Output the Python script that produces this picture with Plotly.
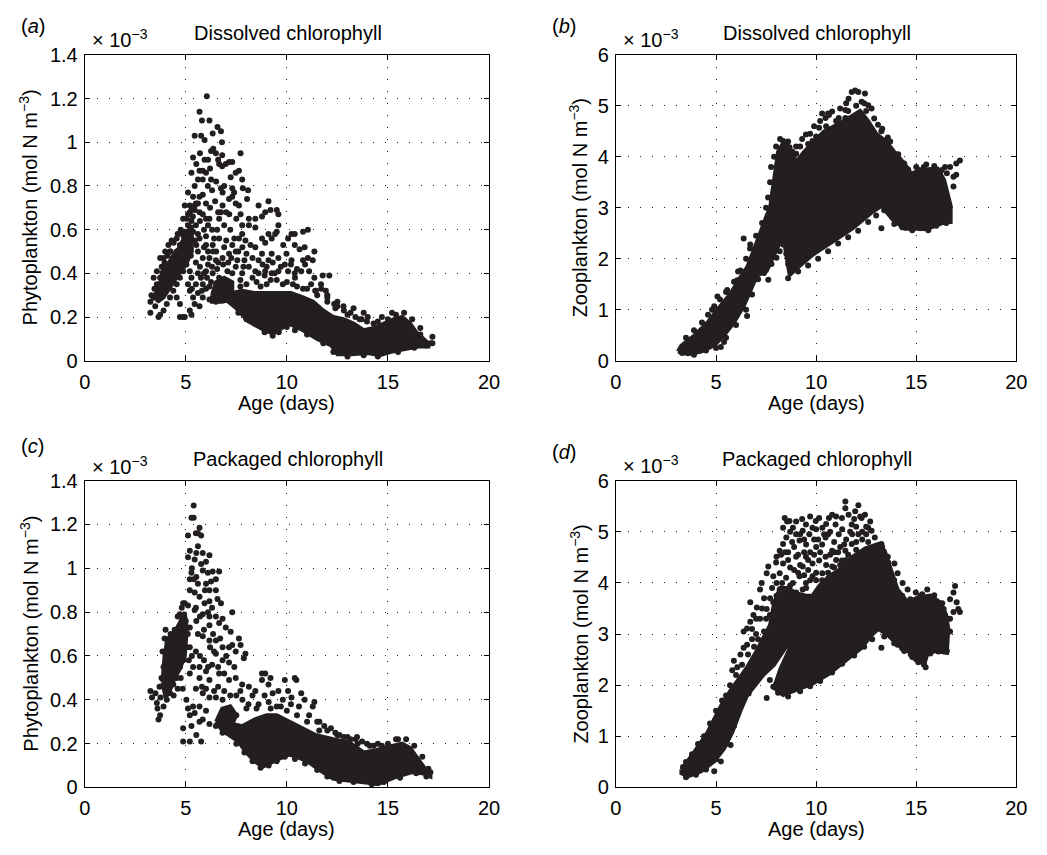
import plotly.graph_objects as go

INK = "#231f20"
W, H = 1047, 855

age_ticks = [0, 5, 10, 15, 20]
phyto_ticks = [0, 0.2, 0.4, 0.6, 0.8, 1, 1.2, 1.4]
zoo_ticks = [0, 1, 2, 3, 4, 5, 6]

panel_titles = ["Dissolved chlorophyll", "Dissolved chlorophyll",
                "Packaged chlorophyll", "Packaged chlorophyll"]
panel_letters = ["a", "b", "c", "d"]
x_title = "Age (days)"
y_titles = ["Phytoplankton (mol N m<sup>−3</sup>)", "Zooplankton (mol N m<sup>−3</sup>)",
            "Phytoplankton (mol N m<sup>−3</sup>)", "Zooplankton (mol N m<sup>−3</sup>)"]

# ---------------- Panel (a): phytoplankton, dissolved (units of 1e-3) -------------
# outlines of the saturated (solid) parts of the point cloud
a_dense = [(7.3,0.31),(7.8,0.32),(8.4,0.31),(9.0,0.31),(9.6,0.31),(10.2,0.31),(10.8,0.29),
           (11.3,0.27),(11.8,0.23),(12.3,0.2),(12.8,0.19),(13.3,0.17),(13.8,0.14),(14.3,0.15),
           (14.8,0.17),(15.3,0.19),(15.7,0.2),(16.1,0.17),(16.4,0.13),(16.8,0.1),(17.0,0.08),
           (17.0,0.065),(16.5,0.065),(15.9,0.055),(15.1,0.04),(14.6,0.025),(14.0,0.035),
           (13.2,0.03),(12.5,0.03),(12.2,0.07),(11.5,0.1),(10.7,0.145),(10.1,0.17),(9.75,0.15),
           (9.3,0.125),(8.8,0.145),(8.1,0.18),(7.5,0.24),(7.1,0.27)]
a_left = [(3.6,0.33),(4.0,0.42),(4.3,0.47),(4.7,0.52),(5.0,0.58),(5.3,0.62),(5.3,0.5),
          (5.0,0.44),(4.6,0.39),(4.2,0.33),(3.9,0.29),(3.6,0.27)]
a_mid = [(6.3,0.3),(6.5,0.36),(6.9,0.38),(7.3,0.36),(7.3,0.28),(6.8,0.27),(6.3,0.27)]
a_points = [
    (6.04,1.21),(5.68,1.14),(5.8,1.10),(6.17,1.10),(6.57,1.07),(6.74,1.05),(5.44,1.03),(5.76,1.03),
    (5.93,1.01),(6.33,1.04),(6.79,1.0),(6.36,0.97),(6.49,0.95),(6.25,0.96),(7.71,0.95),(6.8,0.94),
    (7.14,0.91),(7.3,0.91),(5.36,0.93),(5.52,0.90),(5.93,0.92),(5.68,0.87),(5.84,0.87),(6.0,0.86),
    (6.65,0.9),(6.8,0.89),(6.98,0.9),(7.47,0.86),(7.63,0.87),(7.22,0.84),(5.28,0.86),(5.6,0.83),
    (5.44,0.80),(5.84,0.83),(6.09,0.8),(6.25,0.83),(7.79,0.83),(7.82,0.79),(6.74,0.79),(6.82,0.77),
    (7.3,0.79),(7.39,0.77),(7.14,0.74),(7.3,0.75),(7.47,0.72),(8.08,0.78),(8.03,0.74),(5.11,0.77),
    (5.36,0.75),(5.68,0.75),(5.84,0.76),(6.0,0.72),(8.6,0.71),(9.09,0.73),(7.63,0.71),(7.71,0.67),
    (8.12,0.65),(8.44,0.65),(8.77,0.66),(9.19,0.69),(9.5,0.69),(9.58,0.67),(8.93,0.68),(4.95,0.71),
    (5.2,0.71),(5.44,0.69),(5.68,0.68),(5.84,0.67),(6.17,0.65),(6.65,0.65),(6.82,0.71),(6.74,0.68),
    (7.79,0.62),(8.12,0.62),(8.44,0.61),(9.58,0.62),(9.5,0.59),(10.23,0.58),(10.39,0.58),(10.8,0.59),
    (11.04,0.6),(10.06,0.56),(9.82,0.53),(9.09,0.58),(9.25,0.56),(9.42,0.58),(8.77,0.56),(8.93,0.54),
    (7.79,0.58),(7.63,0.56),(7.95,0.55),(8.2,0.53),(8.44,0.52),(10.39,0.53),(10.63,0.51),(10.88,0.52),
    (11.36,0.5),(11.28,0.46),(11.04,0.47),(10.8,0.46),(9.98,0.49),(10.23,0.46),(9.9,0.44),(9.25,0.49),
    (9.58,0.47),(9.09,0.46),(8.77,0.49),(8.6,0.46),(7.3,0.53),(7.47,0.5),(7.14,0.49),(6.65,0.56),
    (6.33,0.53),(6.0,0.53),(5.68,0.56),(5.52,0.53),(5.84,0.47),(6.17,0.47),(6.49,0.46),(6.82,0.47),
    (11.36,0.38),(11.77,0.39),(12.1,0.39),(11.93,0.32),(12.0,0.29),(11.69,0.35),(11.44,0.32),
    (12.5,0.25),(12.82,0.23),(13.15,0.22),(13.39,0.2),(13.7,0.19),(13.96,0.18),(14.29,0.17),(12.34,0.26),
    (10.71,0.41),(10.39,0.4),(10.06,0.41),(9.58,0.41),(9.25,0.4),(8.93,0.41),(8.44,0.41),(8.12,0.43),
    (7.79,0.40),(7.47,0.43),(7.3,0.4),(7.06,0.41),(6.0,0.41),(6.33,0.4),(6.65,0.38),(5.84,0.35),
    (6.17,0.34),(6.49,0.32),(5.6,0.31),(5.84,0.29),(6.17,0.28),(6.49,0.27),(6.82,0.29),(5.36,0.29),
    (5.44,0.26),(5.68,0.25),(4.55,0.29),(4.71,0.26),(4.87,0.2),(4.71,0.2),(4.95,0.2),(5.2,0.23),(5.28,0.21),
    (3.25,0.27),(3.41,0.29),(3.57,0.31),(3.73,0.32),(3.25,0.22),(3.49,0.25),(3.65,0.2),(3.73,0.21),
    (3.9,0.23),(4.06,0.26),(4.22,0.29),(4.38,0.32),(4.55,0.35),(4.71,0.38),(4.87,0.41),(3.57,0.35),
    (3.73,0.38),(3.9,0.41),(4.06,0.43),(4.22,0.44),(3.73,0.47),(3.9,0.47),(3.98,0.5),(4.14,0.53),
    (4.22,0.5),(4.38,0.47),(4.55,0.46),(4.71,0.47),(4.3,0.55),(4.55,0.56),(4.79,0.58),(4.95,0.59),
    (5.11,0.62),(5.28,0.64),(4.87,0.53),(5.03,0.56),(5.2,0.58),(5.36,0.59),(4.87,0.65),(5.11,0.67),
    (5.28,0.69),(5.44,0.71),(5.6,0.72),(3.9,0.32),(4.06,0.35),(4.22,0.37),(4.38,0.40),(4.55,0.41),
    (3.41,0.38),(3.57,0.41),(3.81,0.43),(4.55,0.5),(4.71,0.53),(4.95,0.47),(5.03,0.44),(5.2,0.41),
    (5.28,0.38),(5.11,0.35),(5.2,0.32),(3.3,0.3),(3.45,0.33),(3.85,0.4),(3.95,0.45),(4.1,0.48),
    (4.25,0.5),(4.4,0.54),(4.6,0.58),(4.75,0.6),(4.9,0.57),(5.0,0.5),(5.15,0.55),(5.25,0.48),
    (4.35,0.42),(4.5,0.44),(4.8,0.45),(3.5,0.29),(4.0,0.36),(4.15,0.4),
    (8.0,0.35),(8.5,0.36),(9.0,0.35),(9.5,0.37),(10.0,0.36),(10.5,0.34),(11.0,0.33),(11.5,0.3),
    (12.0,0.27),(12.4,0.24),(13.0,0.21),(13.6,0.19),(14.0,0.2),(14.5,0.18),(15.0,0.19),(15.4,0.21),
    (16.6,0.12),(17.2,0.11),(17.1,0.08),(16.9,0.07),(7.7,0.37),(8.3,0.38),(8.9,0.39),(9.4,0.4),
    (10.4,0.38),(11.2,0.35),(11.7,0.33),
    (5.5,0.62),(5.6,0.58),(5.7,0.64),(5.9,0.6),(6.0,0.57),(6.1,0.62),(6.3,0.6),(6.4,0.56),(6.5,0.5),
    (6.6,0.45),(6.9,0.52),(7.0,0.55),(7.2,0.6),(7.4,0.56),(7.6,0.5),(7.8,0.52),(7.9,0.46),(8.0,0.49),
    (8.3,0.47),(8.6,0.4),(8.8,0.44),(9.0,0.43),(9.3,0.45),(9.7,0.43),(10.2,0.44),(10.5,0.42),
    (10.9,0.44),(11.1,0.41),(5.5,0.45),(5.7,0.43),(5.9,0.4),(6.1,0.44),(6.3,0.43),(6.7,0.33),
    (6.0,0.33),(5.8,0.32),(5.5,0.35),(5.3,0.33),(7.0,0.35),(7.7,0.34),(8.7,0.34),(9.2,0.37),
    (9.8,0.35),(10.3,0.35),(10.8,0.33),(11.4,0.32),(12.0,0.3),(12.5,0.27),(12.8,0.25),(13.3,0.24),
    (13.8,0.22),(14.7,0.2),(15.2,0.22),(15.8,0.22),(16.2,0.19),(16.6,0.15),(5.05,0.65),(5.2,0.68),
    (5.35,0.66),(5.5,0.72),(6.2,0.7),(6.45,0.73),(6.6,0.68),(7.0,0.68),(7.5,0.65),(6.9,0.8),
    (6.5,0.82),(6.2,0.88),(5.7,0.95),(6.6,0.92),
    (7.6,0.22),(8.0,0.19),(8.4,0.17),(8.9,0.13),(9.3,0.115),(9.6,0.13),(10.0,0.155),(10.4,0.14),
    (11.0,0.12),(11.8,0.08),(12.3,0.04),(13.0,0.02),(13.8,0.025),(14.5,0.02),(15.5,0.04),
    (16.3,0.06),(17.2,0.08),
    (5.6,0.4),(5.75,0.38),(6.05,0.38),(6.25,0.36),(6.55,0.42),(6.85,0.44),(7.1,0.45),(7.25,0.47),
    (7.55,0.46),(7.85,0.43),(6.1,0.5),(6.35,0.5),(6.55,0.6),(6.9,0.62),(7.15,0.67),(5.45,0.55),
    (5.6,0.5),(5.9,0.52),(6.0,0.65),(6.3,0.78),(6.1,0.92)]

# ---------------- Panel (b): zooplankton, dissolved (units of 1e-3) ---------------
b_dense = [(3.1,0.18),(3.27,0.3),(3.93,0.5),(4.58,0.75),(5.07,1.0),(5.73,1.32),(6.22,1.64),
           (6.55,1.83),(6.87,2.15),(7.2,2.53),(7.53,2.85),(7.7,3.0),(7.9,3.6),(8.1,4.1),(8.4,4.3),
           (8.7,4.15),(9.0,3.9),(9.4,4.1),(9.9,4.3),(10.4,4.5),(10.9,4.6),(11.4,4.7),(11.8,4.8),
           (12.2,4.9),(12.6,4.7),(13.0,4.45),(13.5,4.3),(13.9,4.1),(14.4,3.87),(14.75,3.67),
           (15.24,3.74),(16.06,3.77),(16.39,3.55),(16.72,3.04),(16.72,2.72),(16.3,2.7),(15.57,2.59),
           (14.42,2.59),(13.8,2.78),(13.27,3.04),(12.78,2.91),(11.8,2.59),(10.81,2.34),(9.83,2.08),
           (9.0,1.8),(8.68,1.68),(8.35,2.46),(7.53,1.76),(7.04,1.67),(6.71,1.39),(6.38,1.07),
           (5.89,0.75),(5.4,0.5),(4.91,0.3),(4.26,0.18),(3.6,0.13)]
b_points = [
    (7.23,2.21),(7.77,1.9),(7.61,1.59),(6.38,2.4),(6.22,1.77),(7.36,2.53),(6.71,2.28),(4.91,1.07),
    (5.07,1.26),(5.56,1.39),(6.06,1.58),(6.55,0.88),(6.22,1.07),(5.73,0.75),(5.4,0.37),(5.24,0.27),
    (8.02,2.02),(8.18,2.15),(8.35,2.28),(8.51,2.1),(8.6,1.9),
    (8.35,4.31),(8.51,4.25),(8.67,4.19),(8.18,4.06),(9.0,4.06),(9.49,4.44),(9.82,4.31),(10.15,4.57),
    (10.47,4.76),(10.8,4.89),(10.64,4.82),(11.13,4.76),(11.46,4.92),(11.62,5.14),(11.78,5.27),
    (11.95,5.3),(12.11,5.27),(12.44,5.24),(12.6,5.01),(12.77,4.95),(12.27,5.08),(11.46,4.76),
    (10.97,4.57),(13.09,4.63),(13.26,4.5),(13.58,4.38),(13.42,4.19),(13.91,4.06),(14.08,3.93),
    (14.4,3.87),(15.14,3.74),(15.38,3.8),(15.71,3.74),(16.04,3.61),(16.28,3.74),(16.44,3.8),
    (16.53,3.68),(16.86,3.61),(17.0,3.65),(17.18,3.93),(17.0,3.87),(16.69,3.8),(16.86,3.42),
    (13.26,2.6),(14.16,2.79),(14.57,2.66),(15.38,2.6),(16.37,2.72),(9.2,4.2),(9.6,4.25),(10.0,4.4),
    (10.5,4.6),(11.0,4.7),(11.6,4.9),(12.0,5.0),(12.5,4.9),(8.8,4.1),(9.9,4.6),(10.3,4.85),
    (3.5,0.45),(3.9,0.6),(4.3,0.75),(4.6,0.9),(4.8,1.0),(5.2,1.2),(5.5,1.35),(5.9,1.55),(6.1,1.75),
    (6.5,2.0),(6.7,2.2),(7.0,2.45),(7.3,2.7),(7.5,3.0),(7.6,3.2),(7.7,3.5),(7.75,3.8),(7.9,4.0),
    (8.0,4.2),(8.2,4.35),(8.6,4.3),(8.8,4.1),
    (3.3,0.15),(3.9,0.12),(4.5,0.2),(5.0,0.25),(5.5,0.45),(6.0,0.7),(6.5,1.0),(6.8,1.3),(7.1,1.6),
    (7.4,1.72),
    (8.6,1.62),(9.1,1.75),(9.6,1.87),(10.1,2.0),(10.6,2.15),(11.1,2.3),(11.6,2.42),(12.1,2.55),
    (12.6,2.72),(13.0,2.85),(13.4,2.95),(13.9,2.68),(14.3,2.62),(14.8,2.56),(15.2,2.6),(15.6,2.56),
    (16.0,2.65),(16.5,2.7),
    (9.0,4.2),(9.3,4.35),(9.7,4.45),(10.2,4.7),(10.6,4.85),(11.2,4.95),(11.5,5.05),(12.4,5.05),
    (12.9,4.75),(13.3,4.55),(13.7,4.3),(14.1,4.05),(14.6,3.75),(15.0,3.8),(15.5,3.85),(15.9,3.82),
    (16.2,3.7)]

# ---------------- Panel (c): phytoplankton, packaged (units of 1e-3) --------------
c_dense = [(6.8,0.3),(7.4,0.29),(7.8,0.28),(8.4,0.31),(9.0,0.33),(9.5,0.33),(9.9,0.31),(10.4,0.29),
           (10.9,0.26),(11.4,0.24),(12.3,0.22),(13.1,0.205),(13.8,0.16),(14.4,0.17),(15.2,0.19),
           (15.7,0.2),(16.1,0.18),(16.5,0.13),(16.8,0.09),(17.1,0.065),(17.1,0.05),(16.7,0.065),
           (16.2,0.07),(15.3,0.045),(14.5,0.015),(14.0,0.022),(13.0,0.03),(12.3,0.04),(11.7,0.075),
           (11.0,0.12),(10.5,0.14),(10.1,0.15),(9.6,0.13),(9.2,0.11),(8.8,0.095),(8.4,0.12),(8.0,0.16),
           (7.6,0.21),(7.1,0.24),(6.8,0.26)]
c_left = [(3.85,0.48),(3.95,0.6),(4.1,0.68),(4.4,0.7),(4.7,0.75),(4.95,0.8),(5.05,0.72),(4.95,0.6),
          (4.7,0.54),(4.45,0.5),(4.2,0.44),(4.0,0.41)]
c_mid = [(6.5,0.3),(6.8,0.36),(7.2,0.37),(7.5,0.33),(7.2,0.27),(6.8,0.26)]
c_points = [
    (5.39,1.286),(5.28,1.23),(5.39,1.23),(5.68,1.185),(5.6,1.16),(5.76,1.15),(5.11,1.15),(5.2,1.08),
    (5.52,1.07),(5.84,1.07),(6.17,1.06),(5.11,1.05),(5.44,1.04),(5.76,1.02),(6.0,1.03),(5.84,0.99),
    (6.09,0.98),(6.33,0.985),(6.65,0.985),(5.28,0.98),(5.2,0.95),(5.52,0.96),(6.0,0.93),(6.25,0.94),
    (6.49,0.95),(5.2,0.9),(5.44,0.89),(5.68,0.87),(6.17,0.9),(6.49,0.9),(4.87,0.84),(5.11,0.83),
    (5.44,0.81),(5.93,0.84),(6.17,0.85),(6.57,0.86),(6.74,0.84),(7.3,0.8),(5.84,0.79),(6.17,0.78),
    (6.49,0.78),(6.82,0.77),(5.52,0.76),(5.2,0.73),(6.17,0.74),(6.65,0.75),(6.98,0.73),(7.22,0.71),
    (7.63,0.68),(7.71,0.65),(7.95,0.61),(7.87,0.59),(7.3,0.65),(7.47,0.62),(7.14,0.64),(5.84,0.69),
    (6.17,0.67),(6.49,0.67),(6.82,0.64),(6.49,0.61),(6.82,0.58),(7.14,0.57),(5.36,0.55),(5.68,0.55),
    (6.0,0.53),(5.2,0.52),(5.68,0.5),(6.17,0.49),(6.65,0.52),(7.14,0.49),(7.47,0.5),(7.79,0.47),
    (8.12,0.46),(8.44,0.44),(8.77,0.49),(9.09,0.47),(9.58,0.44),(9.19,0.5),(8.93,0.52),(8.77,0.52),
    (9.9,0.49),(10.39,0.5),(10.47,0.49),(10.06,0.44),(10.23,0.41),(10.71,0.43),(10.88,0.4),(11.36,0.39),
    (11.28,0.37),(5.84,0.43),(6.17,0.41),(6.49,0.41),(6.82,0.4),(5.36,0.37),(5.68,0.37),(6.0,0.35),
    (5.2,0.33),(5.44,0.34),(5.68,0.3),(5.84,0.31),(6.17,0.29),(6.49,0.28),(6.82,0.25),(5.03,0.4),
    (5.11,0.36),(4.87,0.27),(5.28,0.28),(5.52,0.24),(5.76,0.21),(4.87,0.21),(5.2,0.21),(11.61,0.30),
    (11.85,0.28),(12.18,0.27),(12.5,0.24),(12.82,0.23),(13.15,0.22),(13.47,0.23),(13.72,0.21),
    (13.96,0.2),(14.29,0.19),
    (3.25,0.44),(3.33,0.41),(3.57,0.385),(3.65,0.31),(3.73,0.33),(3.9,0.37),(4.06,0.4),(4.22,0.43),
    (4.38,0.47),(4.55,0.5),(4.71,0.55),(4.87,0.58),(5.03,0.64),(3.5,0.43),(3.7,0.46),(3.8,0.5),
    (3.9,0.55),(3.85,0.62),(3.95,0.68),(4.0,0.72),(4.1,0.66),(4.25,0.7),(4.35,0.64),(4.45,0.72),
    (4.6,0.78),(4.7,0.79),(4.8,0.82),(4.95,0.84),(5.0,0.76),(4.3,0.55),(4.5,0.6),(4.65,0.62),
    (4.75,0.5),(4.85,0.45),(4.6,0.45),(4.4,0.42),(3.6,0.36),(3.75,0.41),(4.15,0.5),(4.9,0.68),
    (5.1,0.7),(5.2,0.64),(5.15,0.58),
    (7.5,0.33),(8.0,0.36),(8.6,0.38),(9.1,0.39),(9.5,0.37),(10.0,0.35),(10.5,0.33),(11.0,0.3),
    (11.6,0.26),(12.6,0.24),(13.5,0.2),(14.1,0.19),(14.7,0.19),(15.5,0.22),(16.6,0.1),(17.1,0.07),
    (17.0,0.085),(8.3,0.42),(9.3,0.43),(9.8,0.4),
    (5.3,0.6),(5.5,0.62),(5.7,0.6),(5.9,0.58),(6.1,0.55),(6.3,0.56),(6.6,0.55),(6.9,0.52),(5.5,0.45),
    (5.8,0.46),(6.0,0.45),(6.4,0.44),(6.6,0.46),(6.9,0.44),(7.2,0.42),(7.5,0.42),(7.8,0.4),(8.1,0.38),
    (8.5,0.36),(8.9,0.42),(9.2,0.36),(9.7,0.37),(10.2,0.38),(10.6,0.37),(11.1,0.33),(11.5,0.3),
    (12.0,0.26),(12.4,0.25),(13.0,0.23),(13.4,0.22),(14.5,0.2),(15.0,0.2),(15.4,0.22),(15.9,0.22),
    (16.3,0.19),(16.7,0.14),(5.6,0.7),(5.9,0.72),(6.2,0.64),(6.4,0.62),(6.7,0.68),(7.0,0.6),(5.5,0.82),
    (5.7,0.78),(5.95,0.9),(5.6,0.93),(5.4,0.95),(6.3,0.82),(6.1,0.8),(5.3,1.0),(5.6,1.1),(5.5,1.16),
    (6.35,0.7),(7.4,0.55),(7.7,0.44),
    (7.5,0.2),(7.9,0.16),(8.3,0.12),(8.7,0.09),(9.1,0.1),(9.5,0.12),(9.9,0.14),(10.4,0.13),(10.9,0.11),
    (11.5,0.08),(12.0,0.05),(12.6,0.03),(13.3,0.025),(14.2,0.015),(14.8,0.025),(15.6,0.045),
    (16.4,0.065),(16.9,0.05)]

# ---------------- Panel (d): zooplankton, packaged (units of 1e-3) ----------------
d_dense = [(3.27,0.35),(3.93,0.7),(4.58,1.08),(5.24,1.59),(5.73,1.9),(6.22,2.16),(6.55,2.35),
           (7.03,2.67),(7.7,3.18),(7.9,3.6),(8.2,3.9),(8.6,3.9),(9.0,3.8),(9.5,3.75),(9.82,3.75),
           (10.15,3.94),(10.64,4.13),(11.13,4.25),(11.78,4.5),(12.44,4.67),(13.09,4.76),(13.42,4.63),
           (13.75,4.25),(14.07,3.87),(14.57,3.62),(15.06,3.71),(15.7,3.75),(16.2,3.62),(16.5,3.37),
           (16.6,3.1),(16.53,2.63),(15.96,2.67),(15.55,2.6),(15.38,2.38),(15.22,2.48),(14.57,2.67),
           (14.07,2.79),(13.58,2.98),(13.1,3.1),(12.77,2.98),(12.27,2.73),(11.46,2.48),(10.64,2.22),
           (9.82,2.03),(9.0,1.9),(8.35,1.81),(7.9,1.95),(8.2,2.3),(8.6,2.65),(8.9,2.9),(8.5,2.75),
           (7.9,2.4),(7.36,2.2),(7.03,2.04),(6.55,1.8),(6.22,1.5),(5.81,1.08),(5.4,0.76),(4.91,0.51),
           (4.26,0.32),(3.6,0.22),(3.27,0.28)]
d_points = [
    (5.81,2.29),(6.06,2.35),(5.89,2.48),(6.22,2.6),(6.38,2.73),(6.55,2.79),(6.38,3.05),(6.55,3.11),
    (6.71,3.24),(6.87,3.37),(6.71,3.62),(7.04,3.52),(7.2,3.87),(7.28,4.0),(7.53,4.19),(7.61,4.32),
    (7.69,3.37),(7.53,3.49),(7.86,3.62),(8.02,3.75),(8.18,3.87),(8.02,4.0),(7.86,4.13),(8.18,4.19),
    (8.35,4.38),(8.02,4.51),(8.18,4.63),(8.35,4.76),(8.51,4.89),(8.35,5.08),(8.43,5.27),(8.67,5.21),
    (8.84,5.08),(9.0,4.95),(9.17,4.83),(9.33,5.02),(9.49,5.14),(9.66,4.95),(9.82,5.08),(9.98,5.21),
    (10.15,5.27),(10.31,5.08),(10.47,4.89),(10.64,5.27),(10.8,5.33),(10.97,5.14),(11.13,4.95),
    (11.29,5.27),(11.46,5.46),(11.46,5.59),(11.62,5.33),(11.78,5.14),(11.95,5.40),(12.11,5.52),
    (12.27,5.27),(12.44,5.33),(12.6,5.08),(12.77,5.02),(12.11,4.95),(11.78,4.76),(11.46,4.63),
    (10.8,4.63),(10.47,4.51),(10.15,4.44),(9.82,4.38),(9.49,4.51),(9.33,4.32),(9.0,4.51),(9.17,4.13),
    (8.84,4.0),(9.0,3.81),(8.67,3.62),(8.51,3.37),(9.33,3.87),(9.49,4.0),(9.82,4.13),(10.31,4.19),
    (10.8,4.32),(11.29,4.44),(12.93,4.89),(13.26,4.76),(13.58,4.51),(13.91,4.38),(14.07,4.19),
    (14.32,4.0),(14.57,3.87),(14.73,3.62),(15.55,3.87),(15.22,3.75),
    (16.69,3.68),(16.86,3.81),(16.94,3.94),(17.02,3.62),(17.1,3.49),(17.18,3.43),(16.86,3.43),
    (16.69,3.3),(16.69,3.05),(16.37,3.49),(13.26,2.73),(14.07,2.79),(14.4,2.67),(14.73,2.6),
    (14.98,2.51),(15.38,2.41),(15.47,2.35),(16.53,2.67),(14.98,3.81),
    (7.53,1.75),(7.86,1.97),(8.02,2.03),(8.18,2.16),(7.69,2.1),(6.63,1.84),
    (5.56,0.95),(5.73,0.83),(5.24,0.51),(4.91,0.32),
    (8.6,4.6),(8.9,4.7),(9.1,4.55),(9.5,4.75),(9.7,4.6),(10.0,4.7),(10.3,4.75),(10.6,4.95),(10.9,4.8),
    (11.2,4.7),(11.5,4.85),(11.8,4.95),(12.0,5.1),(12.3,4.85),(12.6,4.8),(8.7,4.3),(8.9,4.25),
    (9.2,4.35),(9.6,4.25),(10.0,4.2),(10.5,4.35),(11.0,4.45),(8.3,4.0),(8.5,4.1),(8.7,3.95),(8.4,3.7),
    (8.6,3.85),(9.0,3.65),(9.2,3.55),(8.2,3.5),(8.4,3.3),(7.9,3.4),(8.1,3.25),(7.7,3.7),(8.0,4.4),
    (8.7,5.0),(9.0,5.2),(9.3,5.25),(9.7,5.3),(10.0,5.05),(10.5,5.15),(11.0,5.3),(11.3,5.05),
    (11.9,5.25),(12.2,5.3),(12.5,5.1),(8.55,5.2),(8.25,4.55),(9.9,4.85),(11.6,4.55),(12.0,4.65),
    (10.7,4.55),(7.8,3.9),(7.4,3.7),(7.2,3.3),(7.0,3.0),(6.8,2.9),(6.6,2.6),(6.3,2.4),(6.0,2.2),
    (5.7,2.0),(5.5,1.8),(5.3,1.7),(5.0,1.5),(4.7,1.25),(4.4,1.0),(4.1,0.85),(3.8,0.65),(3.5,0.5),
    (3.35,0.4),
    (3.5,0.2),(4.0,0.25),(4.5,0.35),(5.0,0.55),(5.5,0.85),(5.9,1.2),(6.1,1.45),(6.4,1.8),(6.8,2.1),
    (7.2,2.3),
    (8.1,1.85),(8.6,1.78),(9.2,1.88),(9.7,1.98),(10.2,2.08),(10.8,2.25),(11.3,2.42),(11.9,2.58),
    (12.4,2.75),(12.8,2.9),(13.4,2.95),(13.9,2.82),(14.3,2.72),(14.8,2.55),(15.1,2.45),(15.7,2.62),
    (16.1,2.66),(16.45,2.68),
    (13.3,4.7),(13.6,4.4),(13.9,4.05),(14.3,3.75),(14.7,3.68),(15.3,3.78),(15.9,3.76),(16.3,3.6),
    (16.55,3.3),
    (9.4,4.6),(9.6,4.45),(9.9,4.55),(10.2,4.6),(10.4,4.95),(10.7,5.0),(10.9,4.6),(11.1,4.6),
    (11.4,4.75),(11.7,5.0),(12.0,4.8),(12.3,5.0),(12.5,4.95),(12.7,5.2),(10.1,4.85),(9.4,4.85),
    (9.2,4.95),(8.8,4.8),(8.6,4.45),(8.45,4.6),(9.1,4.2),(9.4,4.15),(9.7,4.05),(10.0,4.05),
    (10.3,4.05),(10.6,4.2),(10.9,4.3),(11.2,4.35),(11.5,4.45),(8.0,3.55),(8.3,3.6),(8.8,3.6),
    (9.5,3.9),(7.5,3.3),(7.3,3.5),(7.0,3.3),(6.8,3.1),(6.9,2.75),(7.1,2.9),(7.4,3.05)]

panels = [
    dict(dense=[a_dense, a_left, a_mid], points=a_points, yticks=phyto_ticks),
    dict(dense=[b_dense], points=b_points, yticks=zoo_ticks),
    dict(dense=[c_dense, c_left, c_mid], points=c_points, yticks=phyto_ticks),
    dict(dense=[d_dense], points=d_points, yticks=zoo_ticks),
]

# plot boxes in pixels: (left, right, top, bottom)
boxes = [(80, 491, 45, 359), (620, 1027, 45, 359), (80, 491, 482, 797), (620, 1027, 482, 797)]
# text offsets (pixels): letter y, exponent y, y-title x
letter_dy = [-30, -30, -35, -29]
expo_dy = [-17, -17, -15, -17]
ytitle_dx = [-57, -38, -57, -38]

fig = go.Figure()
FONT = "Liberation Sans, Arial, Helvetica, sans-serif"
FS = 20

for i, p in enumerate(panels):
    k = "" if i == 0 else str(i + 1)
    xa, ya = "x" + k, "y" + k
    for poly in p["dense"]:
        fig.add_trace(go.Scatter(
            x=[v[0] for v in poly] + [poly[0][0]], y=[v[1] for v in poly] + [poly[0][1]],
            mode="lines", fill="toself", fillcolor=INK, line=dict(color=INK, width=4),
            xaxis=xa, yaxis=ya, showlegend=False, hoverinfo="skip"))
    fig.add_trace(go.Scatter(
        x=[v[0] for v in p["points"]], y=[v[1] for v in p["points"]],
        mode="markers", marker=dict(size=6, color=INK), xaxis=xa, yaxis=ya,
        showlegend=False))

    l, r, t, b = boxes[i]
    common = dict(showline=True, linecolor="black", linewidth=1, mirror="ticks",
                  ticks="inside", ticklen=5, tickcolor="black", showgrid=True,
                  gridcolor=INK, gridwidth=1, griddash="1px,11px", zeroline=False,
                  tickfont=dict(size=FS, color="black", family=FONT))
    fig.layout["xaxis" + k] = dict(common, domain=[l / W, r / W], range=[0, 20],
                                   tickvals=age_ticks, anchor=ya, ticklabelstandoff=3)
    fig.layout["yaxis" + k] = dict(common, domain=[1 - b / H, 1 - t / H],
                                   range=[0, p["yticks"][-1]], tickvals=p["yticks"],
                                   anchor=xa, ticklabelstandoff=2)

    cx = (l + r) / 2
    ann = [
        dict(text="(<i>%s</i>)" % panel_letters[i], x=l - 53, y=t + letter_dy[i]),
        dict(text="× 10<sup>−3</sup>", x=l + 36, y=t + expo_dy[i]),
        dict(text=panel_titles[i], x=cx + 1, y=t - 22),
        dict(text=x_title, x=cx, y=b + 43),
    ]
    for a in ann:
        fig.add_annotation(text=a["text"], x=a["x"] / W, y=1 - a["y"] / H, xref="paper",
                           yref="paper", showarrow=False, xanchor="center", yanchor="middle",
                           font=dict(size=FS, color="black", family=FONT))
    fig.add_annotation(text=y_titles[i], x=(l + ytitle_dx[i]) / W, y=1 - ((t + b) / 2) / H,
                       xref="paper", yref="paper", showarrow=False, textangle=-90,
                       xanchor="center", yanchor="middle",
                       font=dict(size=FS, color="black", family=FONT))

fig.update_layout(width=W, height=H, margin=dict(l=0, r=0, t=0, b=0),
                  plot_bgcolor="white", paper_bgcolor="white",
                  font=dict(family=FONT, color="black"))
fig.write_html("out.html",
               config={"displayModeBar": False, "staticPlot": True},
               post_script="document.body.style.margin='0px';document.body.style.overflow='hidden';")
